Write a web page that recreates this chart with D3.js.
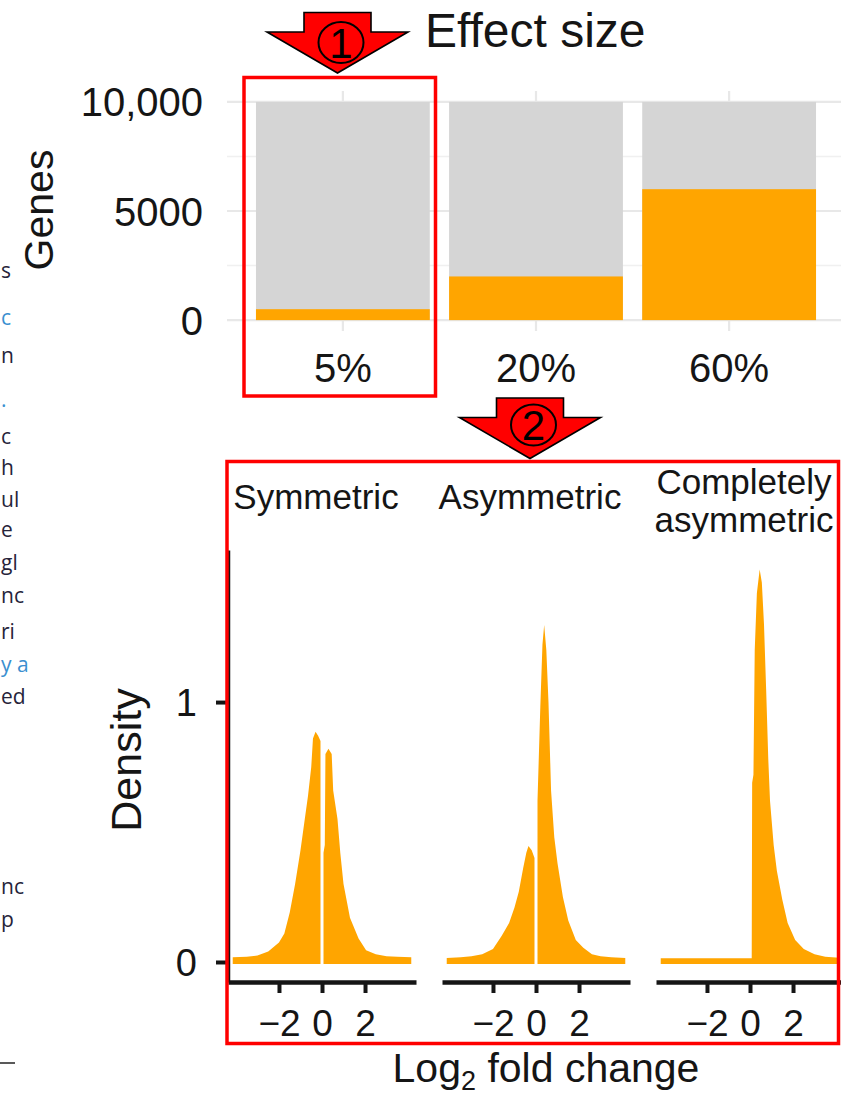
<!DOCTYPE html>
<html>
<head>
<meta charset="utf-8">
<script src="https://cdn.jsdelivr.net/npm/d3@7"></script>
<style>
  html, body { margin: 0; padding: 0; background: #fff; }
  svg { display: block; font-family: "Liberation Sans", Arial, Helvetica, sans-serif; }
</style>
</head>
<body>
<svg id="fig" width="841" height="1097"></svg>
<script>
// ---------- Top panel: number of changed genes per effect size ----------
const effectSizes = ["5%", "20%", "60%"];
const totalGenes = [10000, 10000, 10000];
const changedGenes = [500, 2000, 6000];
const geneTicks = [0, 5000, 10000];
const geneTickLabels = ["0", "5000", "10,000"];
const geneMinorTicks = [2500, 7500];

// ---------- Bottom panels: density of log2 fold changes ----------
const scenarios = ["Symmetric", "Asymmetric", "Completely\nasymmetric"];
const lfcTicks = [-2, 0, 2];
const densityTicks = [0, 1];

// null marks the empty gap around zero
const symLfc = [-4.15, -3.5, -3.0, -2.5, -2.0, -1.75, -1.5, -1.25, -1.0, -0.8, -0.65, -0.5, -0.42, -0.3, -0.18, -0.07,
                0, 0.07, 0.13, 0.16, 0.3, 0.45, 0.52, 0.72, 0.85, 1.0, 1.3, 1.7, 2.05, 2.5, 3.0, 3.5, 4.15];
const symDensity = [0.018, 0.02, 0.025, 0.04, 0.075, 0.11, 0.19, 0.30, 0.43, 0.55, 0.64, 0.75, 0.86, 0.886, 0.87, 0.85,
                    null, 0.42, 0.45, 0.80, 0.82, 0.80, 0.66, 0.55, 0.42, 0.30, 0.17, 0.09, 0.045, 0.03, 0.022, 0.02, 0.018];

const asymLfc = [-4.15, -3.5, -3.0, -2.5, -2.0, -1.6, -1.25, -1.0, -0.8, -0.6, -0.45, -0.35, -0.2, -0.07,
                 0, 0.07, 0.2, 0.3, 0.38, 0.48, 0.58, 0.7, 0.85, 1.0, 1.25, 1.5, 1.85, 2.2, 2.6, 3.0, 3.5, 4.15];
const asymDensity = [0.015, 0.018, 0.022, 0.03, 0.05, 0.10, 0.15, 0.21, 0.27, 0.36, 0.42, 0.446, 0.43, 0.40,
                     null, 0.62, 0.98, 1.22, 1.296, 1.2, 1.0, 0.66, 0.48, 0.38, 0.25, 0.16, 0.085, 0.055, 0.03, 0.022, 0.018, 0.015];

const compLfc = [-4.15, -2.0, 0.08, 0.1, 0.16, 0.22, 0.32, 0.45, 0.55, 0.65, 0.75, 0.85, 0.93, 1.1, 1.25, 1.5, 1.75, 2.1, 2.5, 3.0, 3.5, 4.15];
const compDensity = [0.014, 0.014, 0.014, 0.69, 0.72, 1.2, 1.42, 1.51, 1.46, 1.3, 1.05, 0.78, 0.62, 0.45, 0.35, 0.24, 0.15, 0.085, 0.05, 0.03, 0.02, 0.016];

const panelLfc = [symLfc, asymLfc, compLfc];
const panelDensity = [symDensity, asymDensity, compDensity];

// visible ends of the neighbouring page text at the left edge
const marginWords = ["s", "c", "n", ".", "c", "h", "ul", "e", "gl", "nc", "ri", "y a", "ed", "nc", "p"];
const marginRows = [271, 318, 356, 400, 437, 468, 500, 530, 563, 596, 632, 665, 697, 887, 920];
const marginLink = [false, true, false, true, false, false, false, false, false, false, false, true, false, false, false];

// ---------- styling ----------
const ink = "#151515";
const orange = "#ffa500";
const barGrey = "#d5d5d5";
const red = "#ff0000";

const svg = d3.select("#fig");

// ================= TOP: stacked bars =================
const topG = svg.append("g");
const xBar = d3.scaleBand().domain(effectSizes).range([227, 845]).paddingInner(0.1).paddingOuter(0.15);
const yBar = d3.scaleLinear().domain([-500, 10500]).range([331, 91]);

topG.selectAll("line.minor").data(geneMinorTicks).join("line")
  .attr("class", "minor")
  .attr("x1", 227).attr("x2", 845)
  .attr("y1", d => yBar(d)).attr("y2", d => yBar(d))
  .attr("stroke", "#f0f0f0").attr("stroke-width", 1.6);
topG.selectAll("line.major").data(geneTicks).join("line")
  .attr("class", "major")
  .attr("x1", 227).attr("x2", 845)
  .attr("y1", d => yBar(d)).attr("y2", d => yBar(d))
  .attr("stroke", "#e8e8e8").attr("stroke-width", 2.2);
topG.selectAll("line.vgrid").data(effectSizes).join("line")
  .attr("class", "vgrid")
  .attr("x1", d => xBar(d) + xBar.bandwidth() / 2).attr("x2", d => xBar(d) + xBar.bandwidth() / 2)
  .attr("y1", 91).attr("y2", 331)
  .attr("stroke", "#e8e8e8").attr("stroke-width", 2.2);

topG.selectAll("rect.total").data(effectSizes).join("rect")
  .attr("class", "total")
  .attr("x", d => xBar(d)).attr("width", xBar.bandwidth())
  .attr("y", (d, i) => yBar(totalGenes[i]))
  .attr("height", (d, i) => yBar(0) - yBar(totalGenes[i]))
  .attr("fill", barGrey);
topG.selectAll("rect.changed").data(effectSizes).join("rect")
  .attr("class", "changed")
  .attr("x", d => xBar(d)).attr("width", xBar.bandwidth())
  .attr("y", (d, i) => yBar(changedGenes[i]))
  .attr("height", (d, i) => yBar(0) - yBar(changedGenes[i]))
  .attr("fill", orange);

const yAxisTop = topG.append("g").attr("transform", "translate(227,0)")
  .call(d3.axisLeft(yBar).tickValues(geneTicks).tickFormat((d, i) => geneTickLabels[i]).tickSize(0).tickPadding(24));
yAxisTop.select(".domain").remove();
yAxisTop.attr("font-family", null).attr("font-size", null);
yAxisTop.selectAll("text").attr("font-size", 40).attr("fill", ink).attr("dy", "0.35em");

const xAxisTop = topG.append("g").attr("transform", "translate(0,331)")
  .call(d3.axisBottom(xBar).tickSize(0).tickPadding(23));
xAxisTop.select(".domain").remove();
xAxisTop.attr("font-family", null).attr("font-size", null);
xAxisTop.selectAll("text").attr("font-size", 40).attr("fill", ink);

topG.append("text").attr("transform", "translate(53,210) rotate(-90)")
  .attr("text-anchor", "middle").attr("font-size", 41).attr("fill", ink).text("Genes");

svg.append("text").attr("x", 425).attr("y", 47)
  .attr("font-size", 48).attr("fill", ink).text("Effect size");

// ================= BOTTOM: density facets =================
const botG = svg.append("g");
const facet = d3.scaleBand().domain(scenarios).range([228, 844]).paddingInner(26 / 214).paddingOuter(0);
const yDen = d3.scaleLinear().domain([-0.077, 1.585]).range([982, 550]);

scenarios.forEach((name, p) => {
  const left = facet(name);
  const xLfc = d3.scaleLinear().domain([-4.37, 4.37]).range([left, left + facet.bandwidth()]);
  const pts = panelLfc[p].map((v, i) => ({ x: v, y: panelDensity[p][i] }));
  const area = d3.area()
    .defined(d => d.y !== null)
    .x(d => xLfc(d.x))
    .y0(yDen(0) + 2)
    .y1(d => yDen(d.y));
  botG.append("path").datum(pts).attr("d", area).attr("fill", orange);

  const ax = botG.append("g").attr("transform", `translate(0,${yDen.range()[0]})`)
    .call(d3.axisBottom(xLfc).tickValues(lfcTicks).tickSize(11).tickSizeOuter(0).tickPadding(17));
  ax.attr("font-family", null).attr("font-size", null);
  ax.select(".domain").attr("stroke", ink).attr("stroke-width", 4.5);
  ax.selectAll(".tick line").attr("stroke", ink).attr("stroke-width", 4);
  ax.selectAll("text").attr("font-size", 37).attr("fill", ink);

  // facet strip label
  const lines = name.split("\n");
  const strip = botG.append("text").attr("text-anchor", "middle")
    .attr("font-size", 35).attr("fill", ink);
  const cx = left + facet.bandwidth() / 2 - 6;
  if (lines.length === 1) {
    strip.append("tspan").attr("x", cx).attr("y", 509).text(lines[0]);
  } else {
    lines.forEach((t, k) => strip.append("tspan").attr("x", cx).attr("y", 494 + k * 38).text(t));
  }
});

const yAxisBot = botG.append("g").attr("transform", "translate(228,0)")
  .call(d3.axisLeft(yDen).tickValues(densityTicks).tickFormat(d3.format("d"))
    .tickSize(12).tickSizeOuter(0).tickPadding(19));
yAxisBot.attr("font-family", null).attr("font-size", null);
yAxisBot.select(".domain").attr("stroke", ink).attr("stroke-width", 3.5);
yAxisBot.selectAll(".tick line").attr("stroke", ink).attr("stroke-width", 4);
yAxisBot.selectAll("text").attr("font-size", 38).attr("fill", ink).attr("dy", "0.36em");

botG.append("text").attr("transform", "translate(141,760) rotate(-90)")
  .attr("text-anchor", "middle").attr("font-size", 43).attr("fill", ink).text("Density");

const xTitle = botG.append("text").attr("x", 546).attr("y", 1082)
  .attr("text-anchor", "middle").attr("font-size", 41).attr("fill", ink);
xTitle.append("tspan").text("Log");
xTitle.append("tspan").attr("font-size", 27).attr("dy", 8).text("2");
xTitle.append("tspan").attr("dy", -8).text(" fold change");

// ================= callouts =================
svg.append("rect").attr("x", 244).attr("y", 77.5).attr("width", 191.5).attr("height", 318.5)
  .attr("fill", "none").attr("stroke", red).attr("stroke-width", 3.5);
svg.append("rect").attr("x", 227).attr("y", 461.5).attr("width", 611.5).attr("height", 582)
  .attr("fill", "none").attr("stroke", red).attr("stroke-width", 3.5);

function arrow(cx, top, label, numY) {
  const g = svg.append("g");
  const sh = 33.5, hw = 70.5, shaftH = 19.5, tipH = 60.5;
  const path = d3.path();
  path.moveTo(cx - sh, top);
  path.lineTo(cx + sh, top);
  path.lineTo(cx + sh, top + shaftH);
  path.lineTo(cx + hw, top + shaftH);
  path.lineTo(cx, top + tipH);
  path.lineTo(cx - hw, top + shaftH);
  path.lineTo(cx - sh, top + shaftH);
  path.closePath();
  g.append("path").attr("d", path.toString()).attr("fill", red)
    .attr("stroke", "#000").attr("stroke-width", 1.6).attr("stroke-linejoin", "miter");
  g.append("ellipse").attr("cx", cx + 3.5).attr("cy", numY).attr("rx", 22.5).attr("ry", 20.5)
    .attr("fill", "none").attr("stroke", "#000").attr("stroke-width", 2);
  g.append("text").attr("x", cx + 3.5).attr("y", numY + 15).attr("text-anchor", "middle")
    .attr("font-size", 42).attr("fill", "#000").text(label);
}
arrow(337.5, 12.5, "1", 42.5);
arrow(530, 398, "2", 425);

// ================= page text ends at the left edge =================
const margin = svg.append("g").attr("font-family", "'Open Sans', 'Noto Sans', sans-serif").attr("font-size", 21);
margin.selectAll("text").data(marginWords).join("text")
  .attr("x", 1).attr("y", (d, i) => marginRows[i] + 7)
  .attr("fill", (d, i) => marginLink[i] ? "#3a8fd0" : "#26243a")
  .text(d => d);
margin.append("line").attr("x1", 0).attr("x2", 15).attr("y1", 1063).attr("y2", 1063)
  .attr("stroke", "#222").attr("stroke-width", 1.5);
</script>
</body>
</html>
